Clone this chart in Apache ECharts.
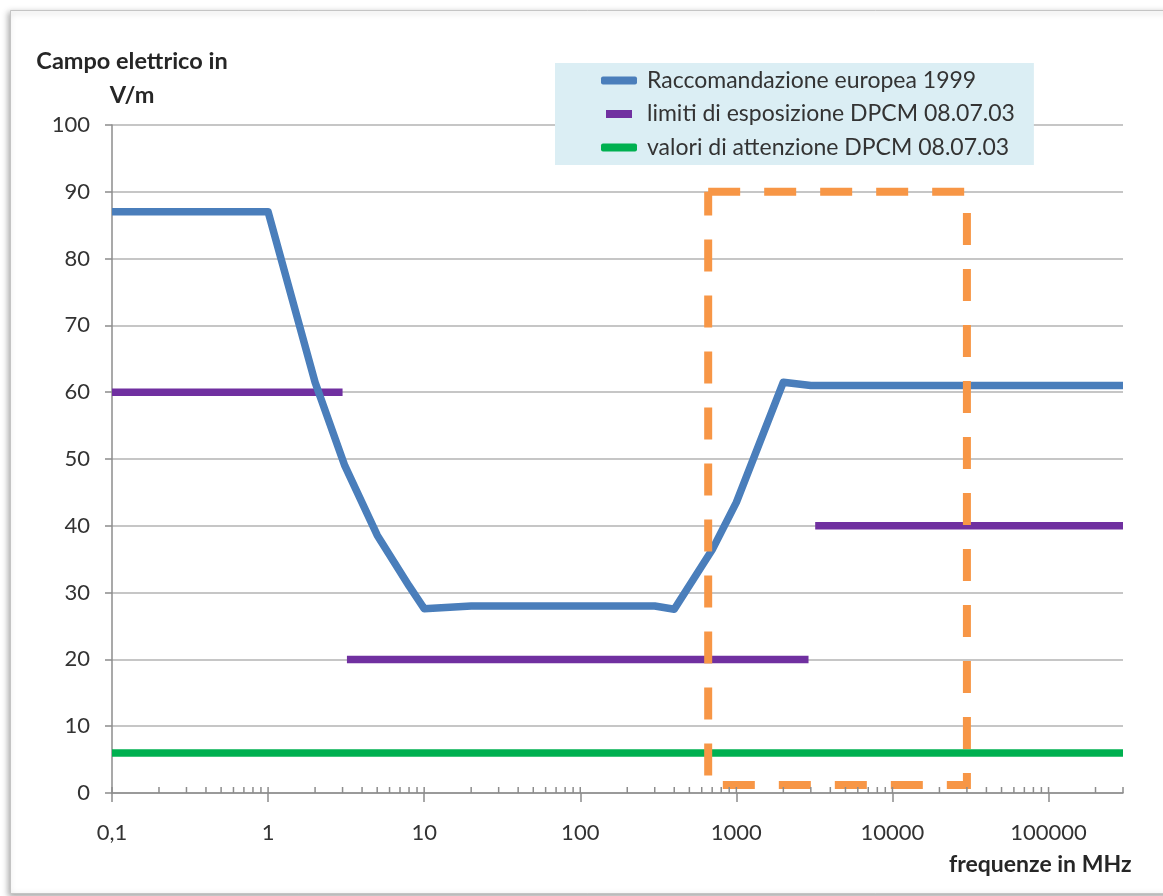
<!DOCTYPE html>
<html>
<head>
<meta charset="utf-8">
<script src="https://cdn.jsdelivr.net/npm/echarts@6/dist/echarts.min.js"></script>
<style>
html,body{margin:0;padding:0;background:#fff;}
#chart{width:1163px;height:896px;}
</style>
</head>
<body>
<div id="chart"></div>
<script>
// ---- data ----
const recName = 'Raccomandazione europea 1999';
const limName = 'limiti di esposizione DPCM 08.07.03';
const attName = 'valori di attenzione DPCM 08.07.03';

const recFreq  = [0.1, 1, 2, 3.1, 5, 8, 10, 20, 300, 400, 700, 1000, 2000, 3000, 300000];
const recField = [87, 87, 61.5, 49, 38.6, 31, 27.6, 28, 28, 27.5, 36.4, 43.5, 61.5, 61, 61];

const limSeg1Freq = [0.1, 3];      const limSeg1Val = [60, 60];
const limSeg2Freq = [3.2, 2900];   const limSeg2Val = [20, 20];
const limSeg3Freq = [3200, 300000]; const limSeg3Val = [40, 40];

const attFreq = [0.1, 300000];
const attVal  = [6, 6];

const boxFreq = [660, 30000, 30000, 660, 660];
const boxVal  = [90, 90, 1.2, 1.2, 90];

const decadeTicks = [0.1, 1, 10, 100, 1000, 10000, 100000];
const minorTicks = [0.2,0.3,0.4,0.5,0.6,0.7,0.8,0.9,
                    2,3,4,5,6,7,8,9,
                    20,30,40,50,60,70,80,90,
                    200,300,400,500,600,700,800,900,
                    2000,3000,4000,5000,6000,7000,8000,9000,
                    20000,30000,40000,50000,60000,70000,80000,90000,
                    200000,300000];

const pairs = (xs, ys) => xs.map((x, i) => [x, ys[i]]);

const FONT = 'Lato';
const chart = echarts.init(document.getElementById('chart'), null, {renderer:'canvas'});

function lineSeries(name, xs, ys, color, extra) {
  return Object.assign({
    name: name, type: 'line', data: pairs(xs, ys), symbol: 'none',
    color: color, itemStyle: {color: color},
    lineStyle: {color: color, width: 7.5, cap: 'butt', join: 'round'},
    silent: true, z: 3
  }, extra || {});
}

const option = {
  animation: false,
  backgroundColor: '#ffffff',
  grid: {left: 112, right: 40, top: 125, bottom: 103, containLabel: false},
  graphic: [
    {type: 'rect', z: -100, silent: true,
     shape: {x: 10.5, y: 10.5, width: 1200, height: 883},
     style: {fill: '#ffffff', stroke: '#c4c4c4', lineWidth: 1,
             shadowBlur: 6, shadowColor: 'rgba(0,0,0,0.35)', shadowOffsetX: -2, shadowOffsetY: 2}},
    {type: 'text', x: 132, y: 44, z: 10,
     style: {text: 'Campo elettrico in\nV/m', align: 'center', verticalAlign: 'top',
             fontFamily: FONT, fontWeight: 'bold', fontSize: 23.5, lineHeight: 34, fill: '#262626'}},
    {type: 'text', x: 949, y: 865, z: 10,
     style: {text: 'frequenze in MHz', align: 'left', verticalAlign: 'middle',
             fontFamily: FONT, fontWeight: 'bold', fontSize: 23, fill: '#262626'}}
  ],
  legend: {
    left: 555, top: 63, orient: 'vertical',
    backgroundColor: '#dbeef4',
    padding: [6, 19, 6, 46],
    itemWidth: 36, itemHeight: 8, itemGap: 10.5,
    selectedMode: false,
    textStyle: {fontFamily: FONT, fontSize: 23, lineHeight: 22, color: '#333333', padding: [0, 0, 0, 5]},
    data: [
      {name: recName, icon: 'roundRect'},
      {name: limName, icon: 'path://M0,0H26V8H0Z'},
      {name: attName, icon: 'roundRect'}
    ]
  },
  xAxis: {
    type: 'log', logBase: 10, min: 0.1, max: 300000,
    axisLine: {show: true, onZero: false, lineStyle: {color: '#8c8c8c', width: 1.5}},
    axisTick: {show: true, inside: false, length: 9, customValues: decadeTicks,
               lineStyle: {color: '#8c8c8c', width: 1.5}},
    axisLabel: {customValues: decadeTicks, margin: 29, fontFamily: FONT, fontSize: 22, color: '#333333',
                formatter: function (v) { return String(v).replace('.', ','); }},
    splitLine: {show: false},
    minorTick: {show: false}
  },
  yAxis: {
    type: 'value', min: 0, max: 100, interval: 10,
    axisLine: {show: true, lineStyle: {color: '#8c8c8c', width: 1.5}},
    axisTick: {show: true, inside: false, length: 7, lineStyle: {color: '#8c8c8c', width: 1.5}},
    axisLabel: {margin: 22, fontFamily: FONT, fontSize: 22, color: '#333333'},
    splitLine: {show: true, lineStyle: {color: '#b3b3b3', width: 1.5}}
  },
  series: [
    lineSeries(attName, attFreq, attVal, '#00b050'),
    lineSeries(limName, limSeg1Freq, limSeg1Val, '#7030a0'),
    lineSeries(limName, limSeg2Freq, limSeg2Val, '#7030a0'),
    lineSeries(limName, limSeg3Freq, limSeg3Val, '#7030a0'),
    lineSeries(recName, recFreq, recField, '#4a7ebb', {z: 4}),
    {
      name: 'box', type: 'line', data: pairs(boxFreq, boxVal), symbol: 'none', silent: true, z: 5,
      lineStyle: {color: '#f79646', width: 8, type: [32, 24], cap: 'butt', join: 'miter'}
    },
    {
      name: 'ticks', type: 'custom', silent: true, z: 6, clip: false,
      data: decadeTicks.concat(minorTicks).map(v => [v, 0]),
      renderItem: function (params, api) {
        const p = api.coord([api.value(0), 0]);
        return {type: 'line', shape: {x1: p[0], y1: p[1], x2: p[0], y2: p[1] - 6},
                style: {stroke: '#8c8c8c', lineWidth: 1.5}};
      }
    }
  ]
};
chart.setOption(option);
</script>
</body>
</html>
